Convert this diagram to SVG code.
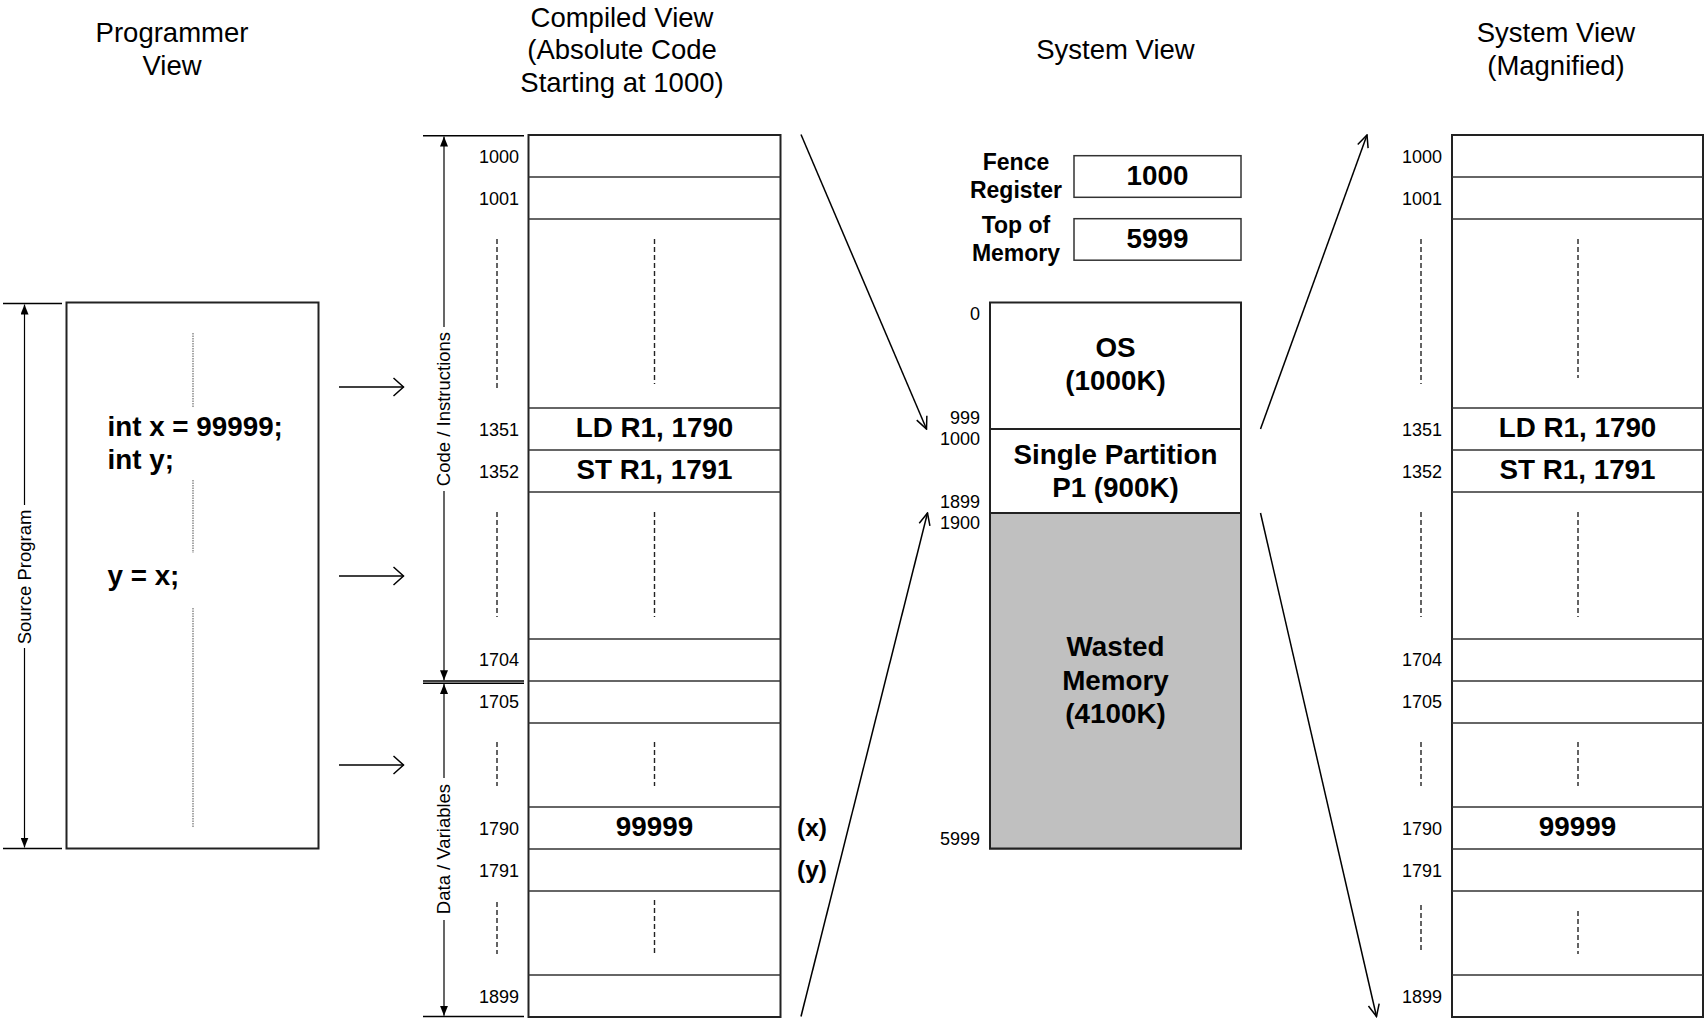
<svg xmlns="http://www.w3.org/2000/svg" width="1705" height="1021" viewBox="0 0 1705 1021">
<defs>
<style>
.t{font-family:"Liberation Sans",Arial,sans-serif;fill:#000}
.title{font-size:27.5px;text-anchor:middle}
.lbl{font-size:18px;text-anchor:end}
.big{font-size:27.8px;font-weight:bold;text-anchor:middle}
.code{font-size:27.8px;font-weight:bold}
.side{font-size:23px;font-weight:bold;text-anchor:middle}
.rot{font-size:18.5px;text-anchor:middle}
.col{fill:#fff;stroke:#222;stroke-width:2}
.row{stroke:#333;stroke-width:1.3}
.dash{stroke:#222;stroke-width:1.4;stroke-dasharray:5,3;fill:none}
.dot{stroke:#6e6e6e;stroke-width:1.2;stroke-dasharray:1.5,1}
.ext{stroke:#000;stroke-width:1.5}
.dim{stroke:#000;stroke-width:1.2;marker-end:url(#dimA)}
.conn{stroke:#000;stroke-width:1.5;fill:none}
</style>
<marker id="dimA" viewBox="0 0 10 8" refX="10" refY="4" markerWidth="10" markerHeight="8" markerUnits="userSpaceOnUse" orient="auto"><path d="M0,0 L10,4 L0,8 z" fill="#000"/></marker>
<marker id="chev" viewBox="0 0 12 20" refX="11" refY="10" markerWidth="12" markerHeight="20" markerUnits="userSpaceOnUse" orient="auto"><path d="M1,1 L11,10 L1,19" fill="none" stroke="#000" stroke-width="1.5"/></marker>
<marker id="open" viewBox="0 0 14 14" refX="13" refY="7" markerWidth="14" markerHeight="14" markerUnits="userSpaceOnUse" orient="auto"><path d="M1,1.5 L13,7 L1,12.5" fill="none" stroke="#000" stroke-width="1.5"/></marker>
</defs>
<rect width="1705" height="1021" fill="#fff"/>

<g id="titles" class="t">
<text class="title" x="172" y="41.5">Programmer</text>
<text class="title" x="172" y="75">View</text>
<text class="title" x="622" y="26.5">Compiled View</text>
<text class="title" x="622" y="59">(Absolute Code</text>
<text class="title" x="622" y="91.5">Starting at 1000)</text>
<text class="title" x="1115.5" y="58.5">System View</text>
<text class="title" x="1556" y="41.5">System View</text>
<text class="title" x="1556" y="75">(Magnified)</text>
</g>

<g id="programmer-view">
<rect x="66.5" y="302.5" width="252" height="546" fill="#fff" stroke="#222" stroke-width="2"/>
<line class="dot" x1="193" y1="333" x2="193" y2="407"/>
<line class="dot" x1="193" y1="480" x2="193" y2="553"/>
<line class="dot" x1="193" y1="608" x2="193" y2="827"/>
<text class="t code" x="107.5" y="436">int x = 99999;</text>
<text class="t code" x="107.5" y="469">int y;</text>
<text class="t code" x="107.5" y="585">y = x;</text>
</g>

<g id="source-program-dim">
<line class="ext" x1="3" y1="303.5" x2="62" y2="303.5"/>
<line class="ext" x1="3" y1="848.5" x2="62" y2="848.5"/>
<line class="dim" x1="24.5" y1="505" x2="24.5" y2="304.5"/>
<line class="dim" x1="24.5" y1="648" x2="24.5" y2="847.5"/>
<text class="t rot" transform="translate(30.8,577) rotate(-90)">Source Program</text>
</g>

<g id="compiled-view">
<rect class="col" x="528.5" y="135" width="252" height="882"/>
<line class="row" x1="528.5" y1="177" x2="780.5" y2="177"/>
<line class="row" x1="528.5" y1="219" x2="780.5" y2="219"/>
<line class="row" x1="528.5" y1="408" x2="780.5" y2="408"/>
<line class="row" x1="528.5" y1="450" x2="780.5" y2="450"/>
<line class="row" x1="528.5" y1="492" x2="780.5" y2="492"/>
<line class="row" x1="528.5" y1="639" x2="780.5" y2="639"/>
<line class="row" x1="528.5" y1="681" x2="780.5" y2="681"/>
<line class="row" x1="528.5" y1="723" x2="780.5" y2="723"/>
<line class="row" x1="528.5" y1="807" x2="780.5" y2="807"/>
<line class="row" x1="528.5" y1="849" x2="780.5" y2="849"/>
<line class="row" x1="528.5" y1="891" x2="780.5" y2="891"/>
<line class="row" x1="528.5" y1="975" x2="780.5" y2="975"/>
<line class="dash" x1="497" y1="239" x2="497" y2="390"/>
<line class="dash" x1="497" y1="512" x2="497" y2="617"/>
<line class="dash" x1="497" y1="742" x2="497" y2="786"/>
<line class="dash" x1="497" y1="902" x2="497" y2="954"/>
<line class="dash" x1="654.5" y1="239" x2="654.5" y2="384"/>
<line class="dash" x1="654.5" y1="512" x2="654.5" y2="617"/>
<line class="dash" x1="654.5" y1="742" x2="654.5" y2="786"/>
<line class="dash" x1="654.5" y1="900" x2="654.5" y2="953"/>
<g class="t lbl">
<text x="519" y="162.5">1000</text>
<text x="519" y="204.5">1001</text>
<text x="519" y="435.5">1351</text>
<text x="519" y="477.5">1352</text>
<text x="519" y="666">1704</text>
<text x="519" y="708">1705</text>
<text x="519" y="834.5">1790</text>
<text x="519" y="876.5">1791</text>
<text x="519" y="1002.5">1899</text>
</g>
<text class="t big" x="654.5" y="437">LD R1, 1790</text>
<text class="t big" x="654.5" y="479">ST R1, 1791</text>
<text class="t big" x="654.5" y="836">99999</text>
<text class="t big" style="font-size:24.5px" x="812" y="835.5">(x)</text>
<text class="t big" style="font-size:24.5px" x="812" y="877.5">(y)</text>
</g>

<g id="compiled-dims">
<line class="ext" x1="423" y1="135.7" x2="524" y2="135.7"/>
<line class="ext" x1="423" y1="681" x2="524" y2="681"/>
<line class="ext" x1="423" y1="683.3" x2="524" y2="683.3"/>
<line class="ext" x1="423" y1="1016.5" x2="524" y2="1016.5"/>
<line class="dim" x1="444" y1="327" x2="444" y2="136.5"/>
<line class="dim" x1="444" y1="491" x2="444" y2="680.3"/>
<line class="dim" x1="444" y1="778" x2="444" y2="684"/>
<line class="dim" x1="444" y1="920" x2="444" y2="1015.8"/>
<text class="t rot" transform="translate(450.3,409) rotate(-90)">Code / Instructions</text>
<text class="t rot" transform="translate(450.3,849) rotate(-90)">Data / Variables</text>
</g>

<g id="fence-register">
<text class="t side" x="1016" y="170">Fence</text>
<text class="t side" x="1016" y="197.5">Register</text>
<rect x="1074" y="155.7" width="167" height="41.6" fill="#fff" stroke="#333" stroke-width="1.5"/>
<text class="t big" x="1157.5" y="185">1000</text>
</g>

<g id="top-of-memory">
<text class="t side" x="1016" y="233.3">Top of</text>
<text class="t side" x="1016" y="260.5">Memory</text>
<rect x="1074" y="218.7" width="167" height="41.5" fill="#fff" stroke="#333" stroke-width="1.5"/>
<text class="t big" x="1157.5" y="248">5999</text>
</g>

<g id="system-view">
<rect x="990" y="302.5" width="251" height="546" fill="#fff" stroke="#222" stroke-width="2"/>
<rect x="990" y="513" width="251" height="335.5" fill="#c0c0c0" stroke="#222" stroke-width="2"/>
<line class="row" x1="990" y1="429" x2="1241" y2="429" style="stroke-width:2;stroke:#222"/>
<g class="t lbl">
<text x="980" y="320">0</text>
<text x="980" y="424.3">999</text>
<text x="980" y="445">1000</text>
<text x="980" y="508.3">1899</text>
<text x="980" y="528.5">1900</text>
<text x="980" y="845">5999</text>
</g>
<text class="t big" x="1115.5" y="357">OS</text>
<text class="t big" x="1115.5" y="390">(1000K)</text>
<text class="t big" x="1115.5" y="464">Single Partition</text>
<text class="t big" x="1115.5" y="497">P1 (900K)</text>
<text class="t big" x="1115.5" y="655.5">Wasted</text>
<text class="t big" x="1115.5" y="689.5">Memory</text>
<text class="t big" x="1115.5" y="723">(4100K)</text>
</g>

<g id="magnified-view">
<rect class="col" x="1452" y="135" width="251" height="882"/>
<line class="row" x1="1452" y1="177" x2="1703" y2="177"/>
<line class="row" x1="1452" y1="219" x2="1703" y2="219"/>
<line class="row" x1="1452" y1="408" x2="1703" y2="408"/>
<line class="row" x1="1452" y1="450" x2="1703" y2="450"/>
<line class="row" x1="1452" y1="492" x2="1703" y2="492"/>
<line class="row" x1="1452" y1="639" x2="1703" y2="639"/>
<line class="row" x1="1452" y1="681" x2="1703" y2="681"/>
<line class="row" x1="1452" y1="723" x2="1703" y2="723"/>
<line class="row" x1="1452" y1="807" x2="1703" y2="807"/>
<line class="row" x1="1452" y1="849" x2="1703" y2="849"/>
<line class="row" x1="1452" y1="891" x2="1703" y2="891"/>
<line class="row" x1="1452" y1="975" x2="1703" y2="975"/>
<line class="dash" x1="1421" y1="239" x2="1421" y2="384"/>
<line class="dash" x1="1421" y1="512" x2="1421" y2="617"/>
<line class="dash" x1="1421" y1="742" x2="1421" y2="786"/>
<line class="dash" x1="1421" y1="905" x2="1421" y2="953"/>
<line class="dash" x1="1578" y1="239" x2="1578" y2="378"/>
<line class="dash" x1="1578" y1="512" x2="1578" y2="617"/>
<line class="dash" x1="1578" y1="742" x2="1578" y2="786"/>
<line class="dash" x1="1578" y1="911" x2="1578" y2="954"/>
<g class="t lbl">
<text x="1442" y="162.5">1000</text>
<text x="1442" y="204.5">1001</text>
<text x="1442" y="435.5">1351</text>
<text x="1442" y="477.5">1352</text>
<text x="1442" y="666">1704</text>
<text x="1442" y="708">1705</text>
<text x="1442" y="834.5">1790</text>
<text x="1442" y="876.5">1791</text>
<text x="1442" y="1002.5">1899</text>
</g>
<text class="t big" x="1577.5" y="437">LD R1, 1790</text>
<text class="t big" x="1577.5" y="479">ST R1, 1791</text>
<text class="t big" x="1577.5" y="836">99999</text>
</g>

<g id="connectors">
<line class="conn" x1="339" y1="387" x2="403.5" y2="387" marker-end="url(#chev)"/>
<line class="conn" x1="339" y1="576" x2="403.5" y2="576" marker-end="url(#chev)"/>
<line class="conn" x1="339" y1="765" x2="403.5" y2="765" marker-end="url(#chev)"/>
<line class="conn" x1="801" y1="134.5" x2="926.5" y2="429" marker-end="url(#open)"/>
<line class="conn" x1="801" y1="1016.5" x2="927.5" y2="513" marker-end="url(#open)"/>
<line class="conn" x1="1260.5" y1="429" x2="1367" y2="135" marker-end="url(#open)"/>
<line class="conn" x1="1260.5" y1="513" x2="1376.5" y2="1016.5" marker-end="url(#open)"/>
</g>
</svg>
